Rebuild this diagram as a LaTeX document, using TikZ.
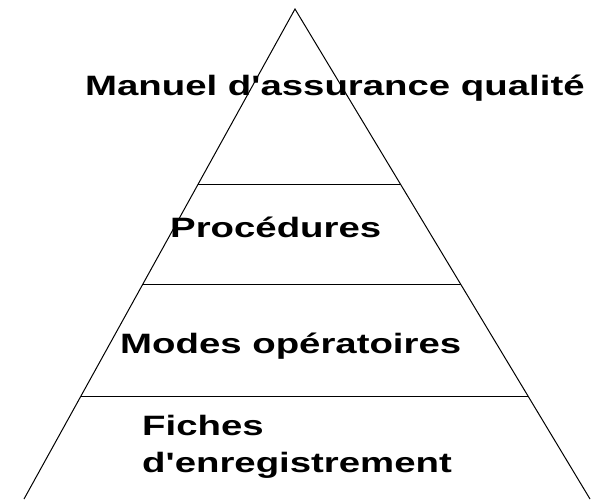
\documentclass[tikz,border=0pt]{standalone}
\usepackage{fontspec}
\usepackage{graphicx}
\setmainfont{Liberation Sans}[Ligatures=TeXOff]
\usetikzlibrary{calc}
\tikzset{
  edge/.style={draw=black, line width=1pt},
  lbl/.style={inner sep=0pt, anchor=base west, font=\bfseries\fontsize{28}{28}\selectfont},
}
\newcommand{\wide}[1]{\scalebox{1.37}[1]{#1}}
\begin{document}
\begin{tikzpicture}[x=1pt,y=-1pt]
\useasboundingbox (0,0) rectangle (600,499);
\coordinate (apex) at (295,9);
\coordinate (bl) at (24,499);
\coordinate (br) at (590,499);
\draw[edge] (bl) -- (apex) -- (br);
\coordinate (l1) at ($(apex)!0.359!(bl)$);
\coordinate (r1) at ($(apex)!0.359!(br)$);
\coordinate (l2) at ($(apex)!0.563!(bl)$);
\coordinate (r2) at ($(apex)!0.563!(br)$);
\coordinate (l3) at ($(apex)!0.790!(bl)$);
\coordinate (r3) at ($(apex)!0.790!(br)$);
\draw[edge] (l1) -- (r1);
\draw[edge] (l2) -- (r2);
\draw[edge] (l3) -- (r3);
\node[lbl] (manuel) at (85,95) {\wide{Manuel d'assurance qualité}};
\node[lbl] (proc) at (170,237) {\wide{Procédures}};
\node[lbl] (modes) at (120,353) {\wide{Modes opératoires}};
\node[lbl] (fiches) at (142,435) {\wide{Fiches}};
\node[lbl] (enreg) at (142,472) {\wide{d'enregistrement}};
\end{tikzpicture}
\end{document}
